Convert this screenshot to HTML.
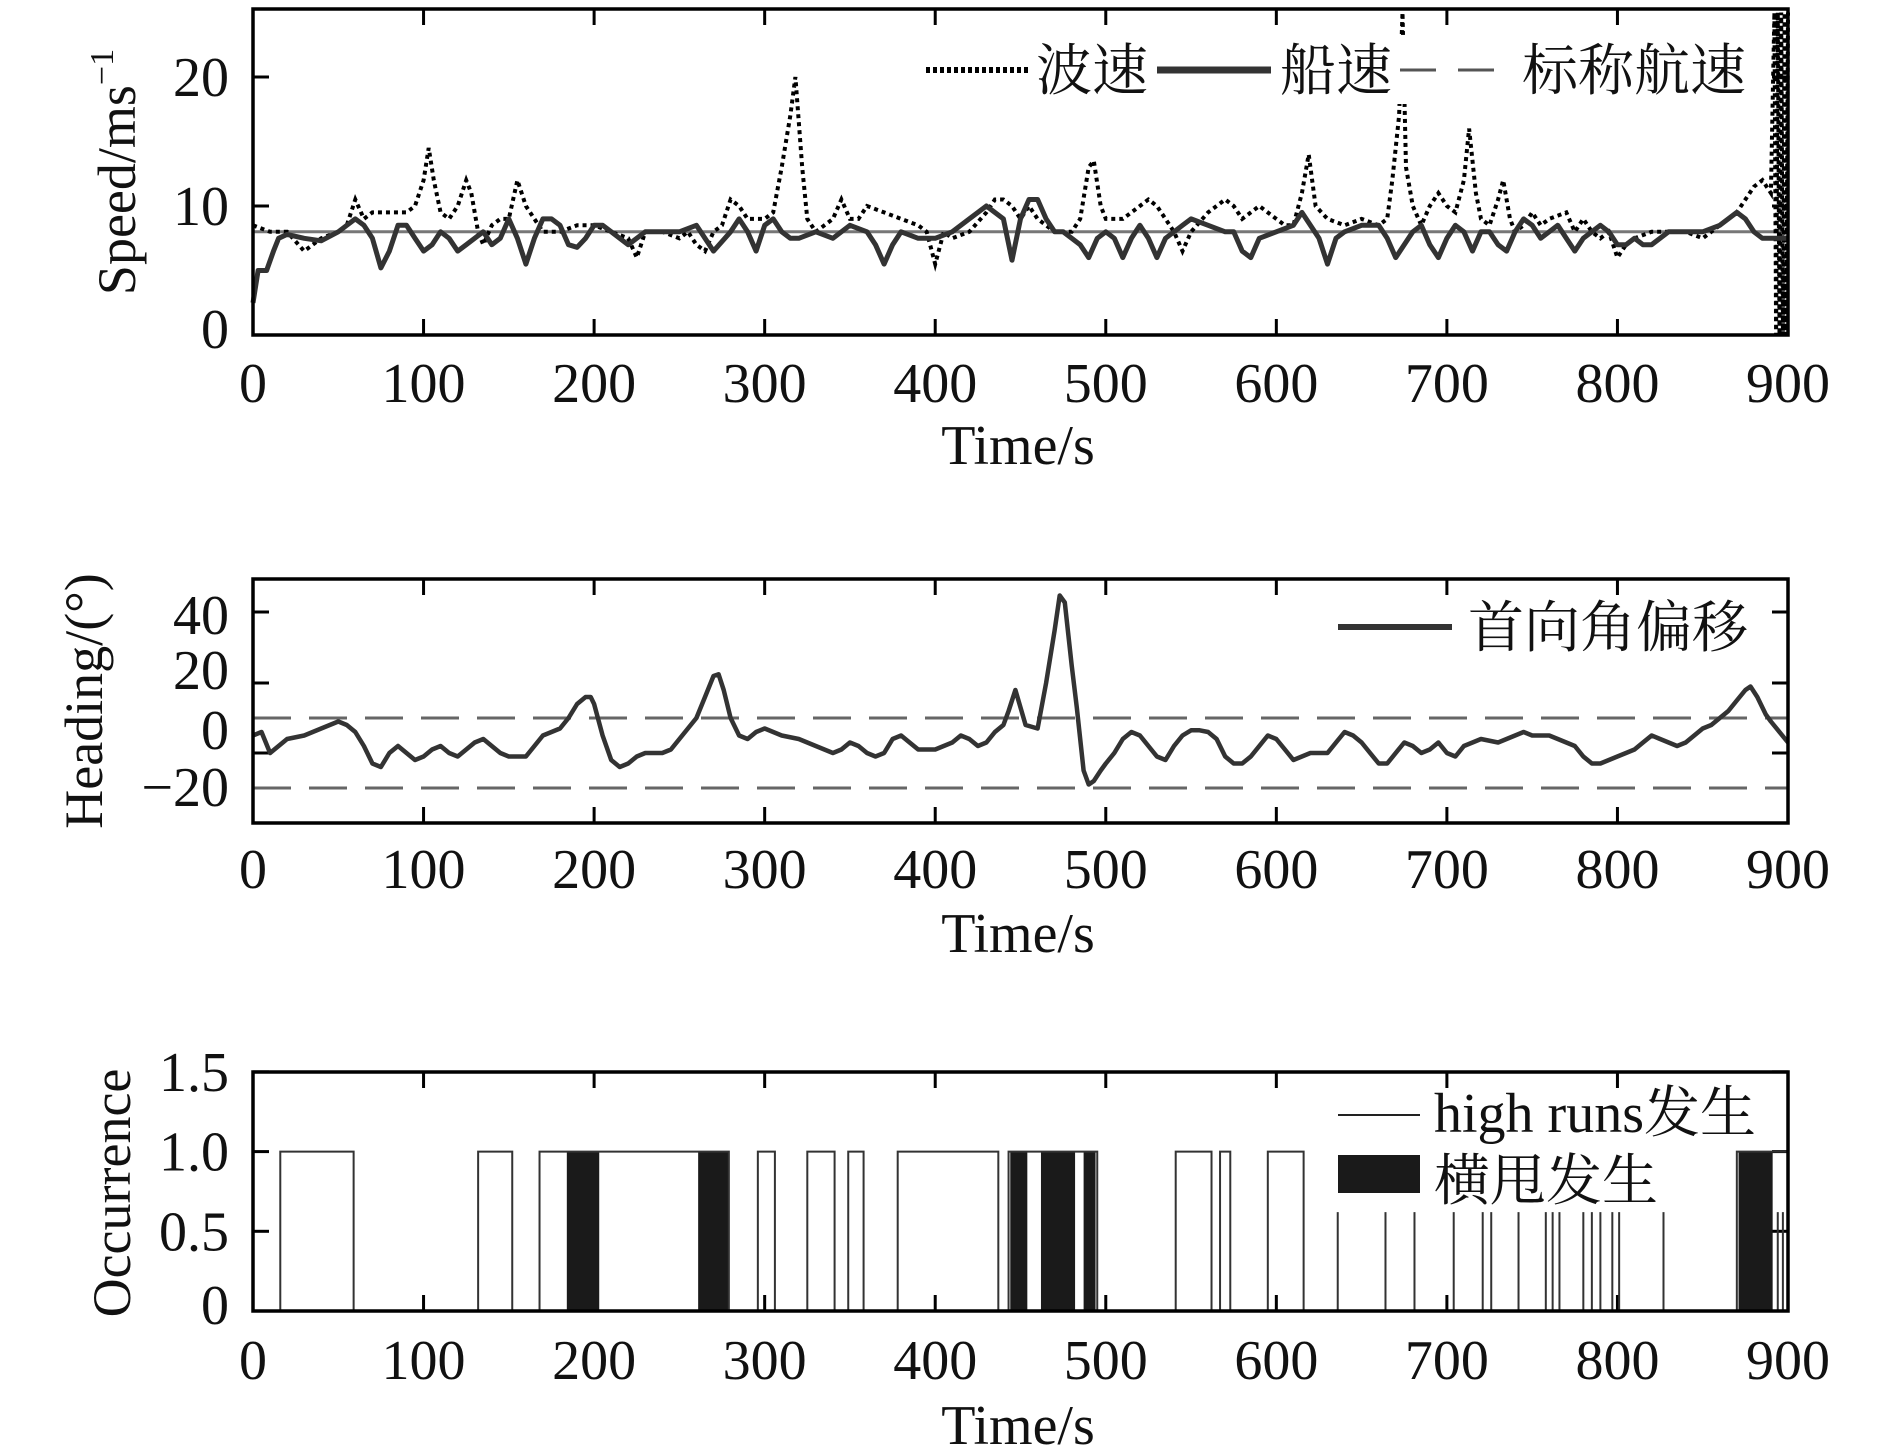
<!DOCTYPE html>
<html><head><meta charset="utf-8"><style>
html,body{margin:0;padding:0;background:#fff;}
svg{display:block;}
text{font-family:"Liberation Serif","Noto Serif CJK SC","Noto Sans CJK SC",serif;fill:#111;}
</style></head><body>
<svg id="chart" width="1890" height="1453" viewBox="0 0 1890 1453" xmlns="http://www.w3.org/2000/svg"></svg>
<script>
const timeTicks=[0,100,200,300,400,500,600,700,800,900];
const shipT=[0,3,8,12,15,20,30,40,50,55,60,65,70,75,80,85,90,95,100,105,110,115,120,125,130,135,140,145,150,155,160,165,170,175,180,185,190,195,200,205,210,215,220,225,230,240,250,260,265,270,280,285,290,295,300,305,310,315,320,330,340,350,360,365,370,375,380,390,400,410,420,430,440,445,450,455,460,465,470,475,480,485,490,495,500,505,510,515,520,525,530,535,540,545,550,560,570,575,580,585,590,600,610,615,620,625,630,635,640,650,660,665,670,680,685,690,695,700,705,710,715,720,725,730,735,740,745,750,755,760,765,770,775,780,790,795,800,805,810,815,820,830,840,850,860,870,875,880,885,890,895,900];
const shipV=[2.5,5,5,6.5,7.5,7.8,7.5,7.3,8,8.5,9,8.5,7.5,5.2,6.5,8.5,8.5,7.5,6.5,7,8,7.5,6.5,7,7.5,8,7,7.5,9,7.5,5.5,7.5,9,9,8.5,7,6.8,7.5,8.5,8.5,8,7.5,7,7.5,8,8,8,8.5,7.5,6.5,8,9,8,6.5,8.5,9,8,7.5,7.5,8,7.5,8.5,8,7,5.5,7,8,7.5,7.5,8,9,10,9,5.8,9,10.5,10.5,9,8,8,7.5,7,6,7.5,8,7.5,6,7.5,8.5,7.5,6,7.5,8,8.5,9,8.5,8,8,6.5,6,7.5,8,8.5,9.5,8.5,7.5,5.5,7.5,8,8.5,8.5,7.5,6,8,8.5,7,6,7.5,8.5,8,6.5,8,8,7,6.5,8,9,8.5,7.5,8,8.5,7.5,6.5,7.5,8.5,8,7,7,7.5,7,7,8,8,8,8.5,9.5,9,8,7.5,7.5,7.5,7.5];
const waveT=[0,10,20,30,40,50,55,60,65,70,80,90,95,100,103,106,110,115,120,125,128,132,135,140,145,150,155,160,165,170,180,190,200,210,220,225,230,240,250,255,260,265,270,275,280,285,290,295,300,305,310,315,318,322,325,330,335,340,345,350,355,360,370,380,390,395,400,405,410,420,430,435,440,445,450,455,460,470,480,485,490,493,497,500,510,520,525,530,535,540,545,550,560,570,575,580,590,600,605,610,615,619,623,630,640,650,660,665,668,672,674,676,680,685,690,695,700,705,710,713,717,720,725,730,733,737,740,745,750,755,760,770,775,780,785,790,795,800,805,810,820,830,840,850,855,860,870,875,880,885,890,892,893,894,895,896,897,898,899,900];
const waveV=[8.5,8,8,6.5,7.5,8,8.5,10.5,9,9.5,9.5,9.5,10,12,14.5,12,9.5,9,10,12,11,8,7,8.5,9,9,12,10,9,8,8,8.5,8.5,8,7.5,6,8,8,7.5,8,7,6.5,8,8.5,10.5,10,9,9,9,9.5,13,17,20,13,9,8,8.5,9,10.5,9,9,10,9.5,9,8.5,8,5.5,8,7.5,8,9.5,10.5,10.5,10,9,10,9,8,8,9,13,13.5,10,9,9,10,10.5,10,9,8,6.5,8,9.5,10.5,10,9,10,9,8.5,8.5,11,14,10,9,8.5,9,8.5,9,12,17,25,13,10,8.5,10,11,10,9.5,12,16,11,9,8.5,10.5,12,9,8,8.5,9.5,8.5,9,9.5,8,9,8,7.5,8,6,7,7.5,8,8,8,7.5,8,8.5,9.5,10.5,11.5,12,11,25,0,25,0,25,0,25,0,25,0];
const nominalSpeed=[8];
const headT=[0,5,10,15,20,30,40,50,55,60,65,70,75,80,85,90,95,100,105,110,115,120,125,130,135,140,145,150,160,170,175,180,185,190,195,198,200,205,210,215,220,225,230,240,245,250,255,260,265,270,273,276,280,285,290,295,300,305,310,320,330,340,345,350,355,360,365,370,375,380,385,390,400,410,415,420,425,430,435,440,443,447,450,453,460,465,470,473,476,480,483,487,490,493,497,500,505,510,515,520,525,530,535,540,545,550,555,560,565,570,575,580,585,590,595,600,605,610,615,620,630,635,640,645,650,655,660,665,670,675,680,685,690,695,700,705,710,715,720,730,740,745,750,760,765,770,775,780,785,790,795,800,805,810,815,820,825,830,835,840,845,850,855,860,865,870,875,878,882,887,890,900];
const headV=[-5,-4,-10,-8,-6,-5,-3,-1,-2,-4,-8,-13,-14,-10,-8,-10,-12,-11,-9,-8,-10,-11,-9,-7,-6,-8,-10,-11,-11,-5,-4,-3,0,4,6,6,4,-5,-12,-14,-13,-11,-10,-10,-9,-6,-3,0,6,12,12.5,8,0,-5,-6,-4,-3,-4,-5,-6,-8,-10,-9,-7,-8,-10,-11,-10,-6,-5,-7,-9,-9,-7,-5,-6,-8,-7,-4,-2,2,8,3,-2,-3,10,25,35,33,15,3,-15,-19,-18,-15,-13,-10,-6,-4,-5,-8,-11,-12,-8,-5,-3.5,-3.5,-4,-6,-11,-13,-13,-11,-8,-5,-6,-9,-12,-11,-10,-10,-7,-4,-5,-7,-10,-13,-13,-10,-7,-8,-10,-9,-7,-10,-11,-8,-7,-6,-7,-5,-4,-5,-5,-6,-7,-8,-11,-13,-13,-12,-11,-10,-9,-7,-5,-6,-7,-8,-7,-5,-3,-2,0,2,5,8,9,6,1,-1,-7];
const headLimits=[0,-20];
const runStart=[16,132,168,296,325,349,378,443,541,567,595,870];
const runEnd=[59,152,279,306,341,358,437,495,562,573,616,900];
const spikeT=[636,664,681,704,721,726,742,758,762,766,780,785,790,797,801,827,894,897];
const spikeH=[0.62];
const yawStart=[184,261,444,462,487,871];
const yawEnd=[203,279,454,482,494,891];

const svg=document.getElementById('chart');
const NS='http://www.w3.org/2000/svg';
function mk(tag,attrs,parent){const e=document.createElementNS(NS,tag);for(const k in attrs)e.setAttribute(k,attrs[k]);(parent||svg).appendChild(e);return e;}
const X0=253,X1=1788;
function X(t){return X0+t*(X1-X0)/900;}
function Y1(v){return 335-v*12.9;}
function Y2(v){return 718-v*3.5;}
function Y3(v){return 1311-v*159.4;}

function frame(name,top,bot,yTicksPx,yLabels,xLabelY,titleY){
  const g=mk('g',{});
  
  
  timeTicks.forEach(t=>{
    const a=mk('line',{x1:X(t),x2:X(t),y1:top,y2:top+16,stroke:'#000','stroke-width':3},g);
    
    const b=mk('line',{x1:X(t),x2:X(t),y1:bot,y2:bot-16,stroke:'#000','stroke-width':3},g);
    
    const tx=mk('text',{x:X(t),y:xLabelY,'text-anchor':'middle','font-size':56},g);
    
    tx.textContent=String(t);
  });
  yTicksPx.forEach(p=>{
    mk('line',{x1:X0,x2:X0+16,y1:p,y2:p,stroke:'#000','stroke-width':3},g);
    mk('line',{x1:X1,x2:X1-16,y1:p,y2:p,stroke:'#000','stroke-width':3},g);
  });
  yLabels.forEach(l=>{
    const tx=mk('text',{x:229,y:l[1]+19,'text-anchor':'end','font-size':56},g);
    
    tx.textContent=l[0];
  });
  const tt=mk('text',{x:1018,y:titleY,'text-anchor':'middle','font-size':56},g);
  
  tt.textContent='Time/s';
  return g;
}
function border(top,bot){
  const r=mk('rect',{x:X0,y:top,width:X1-X0,height:bot-top,fill:'none',stroke:'#000','stroke-width':3.5});
  
}
function path(ts,vs,Y){return ts.map((t,i)=>(i?'L':'M')+X(t).toFixed(1)+' '+Y(vs[i]).toFixed(1)).join(' ');}

// ---- Top plot ----
frame('speed-axes',9,335,[Y1(0),Y1(10),Y1(20)],[['20',Y1(20)],['10',Y1(10)],['0',Y1(0)-6]],402,464);
let e=mk('line',{x1:X0,x2:X1,y1:Y1(nominalSpeed[0]),y2:Y1(nominalSpeed[0]),stroke:'#777','stroke-width':3});

e=mk('path',{d:path(waveT,waveV,Y1),fill:'none',stroke:'#000','stroke-width':4,'stroke-dasharray':'4 4'});

e=mk('path',{d:path(shipT,shipV,Y1),fill:'none',stroke:'#333','stroke-width':5,'stroke-linejoin':'round'});

border(9,335);
const lg1=mk('g',{});

mk('rect',{x:922,y:38,width:848,height:66,fill:'#fff'},lg1);
mk('line',{x1:926,x2:1030,y1:70,y2:70,stroke:'#000','stroke-width':6,'stroke-dasharray':'4 3'},lg1);
let lt=mk('text',{x:1036,y:90,'font-size':56},lg1);lt.textContent='波速';

mk('line',{x1:1157,x2:1271,y1:70,y2:70,stroke:'#333','stroke-width':7},lg1);
lt=mk('text',{x:1280,y:90,'font-size':56},lg1);lt.textContent='船速';

mk('line',{x1:1400,x2:1512,y1:70,y2:70,stroke:'#555','stroke-width':3,'stroke-dasharray':'36 22'},lg1);
lt=mk('text',{x:1522,y:90,'font-size':56},lg1);lt.textContent='标称航速';

lt=mk('text',{x:0,y:0,'font-size':54,'text-anchor':'middle',transform:'translate(135,172) rotate(-90)'});

lt.innerHTML='Speed/ms<tspan dy="-22" font-size="34">−1</tspan>';

// ---- Middle plot ----
frame('heading-axes',579,823,[612,683,753],[['40',615],['20',670],['0',730],['−20',787]],888,952);
headLimits.forEach(v=>{
  const l=mk('line',{x1:X0,x2:X1,y1:Y2(v),y2:Y2(v),stroke:'#666','stroke-width':3,'stroke-dasharray':'38 18'});
  
});
e=mk('path',{d:path(headT,headV,Y2),fill:'none',stroke:'#333','stroke-width':4.5,'stroke-linejoin':'round'});

border(579,823);
const lg2=mk('g',{});

mk('line',{x1:1338,x2:1452,y1:627,y2:627,stroke:'#333','stroke-width':6},lg2);
lt=mk('text',{x:1468,y:647,'font-size':56},lg2);lt.textContent='首向角偏移';

lt=mk('text',{x:0,y:0,'font-size':54,'text-anchor':'middle',transform:'translate(102,701) rotate(-90)'});

lt.textContent='Heading/(°)';

// ---- Bottom plot ----
frame('occurrence-axes',1072,1311,[Y3(0),Y3(0.5),Y3(1),Y3(1.5)],[['1.5',Y3(1.5)],['1.0',Y3(1)],['0.5',Y3(0.5)],['0',Y3(0)-6]],1379,1444);
yawStart.forEach((s,i)=>{
  const r=mk('rect',{x:X(s),y:Y3(1),width:X(yawEnd[i])-X(s),height:Y3(0)-Y3(1),fill:'#1a1a1a'});
  
});
runStart.forEach((s,i)=>{
  const x0=X(s),x1=X(runEnd[i]);
  const d='M'+x0+' '+Y3(0)+' L'+x0+' '+Y3(1)+' L'+x1+' '+Y3(1)+' L'+x1+' '+Y3(0);
  const p=mk('path',{d:d,fill:'none',stroke:'#333','stroke-width':2});
  
});
spikeT.forEach(t=>{
  const l=mk('line',{x1:X(t),x2:X(t),y1:Y3(0),y2:Y3(spikeH[0]),stroke:'#333','stroke-width':2});
  
});
border(1072,1311);
const lg3=mk('g',{});

mk('line',{x1:1338,x2:1420,y1:1115,y2:1115,stroke:'#222','stroke-width':2},lg3);
lt=mk('text',{x:1434,y:1132,'font-size':56},lg3);lt.textContent='high runs发生';

mk('rect',{x:1338,y:1155,width:82,height:38,fill:'#1a1a1a'},lg3);
lt=mk('text',{x:1434,y:1200,'font-size':56},lg3);lt.textContent='横甩发生';

lt=mk('text',{x:0,y:0,'font-size':54,'text-anchor':'middle',transform:'translate(130,1193) rotate(-90)'});

lt.textContent='Occurrence';
</script>
</body></html>
